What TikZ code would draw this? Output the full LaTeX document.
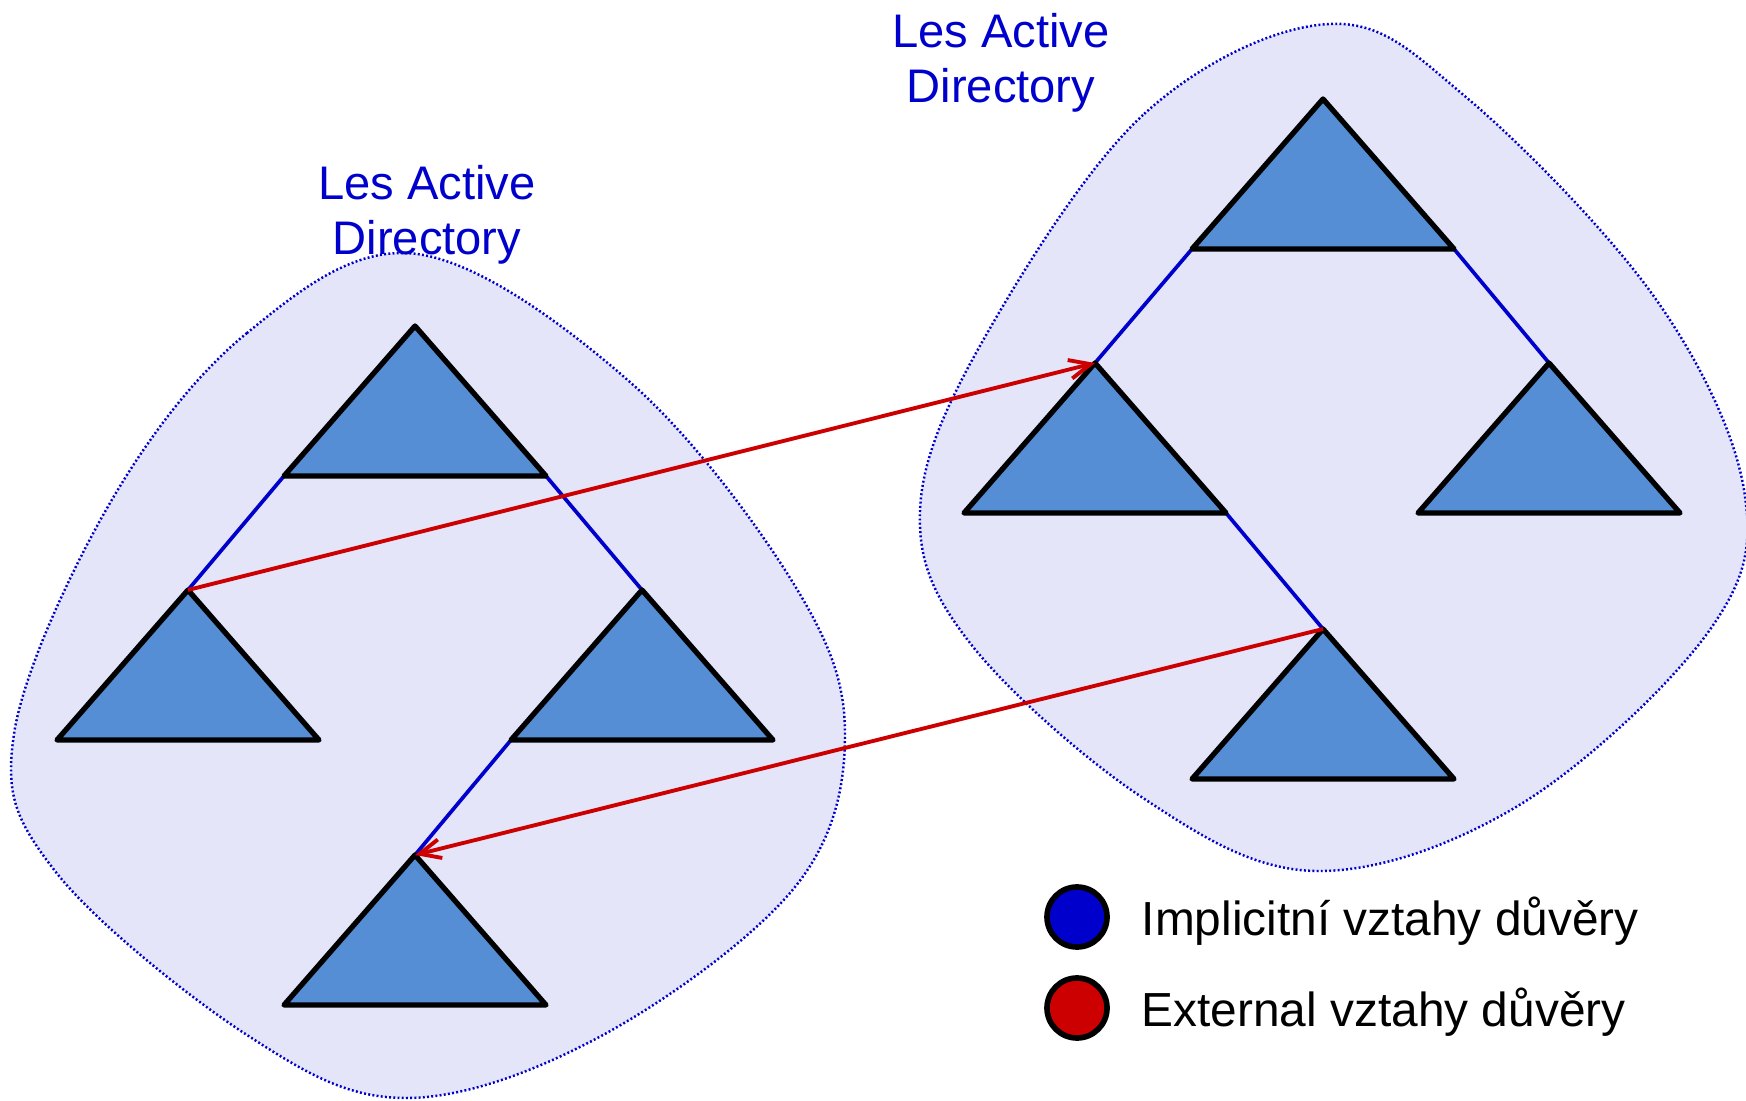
\documentclass[tikz,border=0pt]{standalone}
\usepackage{fontspec}
\setmainfont{Liberation Sans}
\usetikzlibrary{arrows.meta}
\definecolor{blobfill}{RGB}{228,229,248}
\definecolor{adblue}{RGB}{0,0,204}
\definecolor{adred}{RGB}{204,0,0}
\definecolor{trifill}{RGB}{85,142,213}
\newcommand\mytri[3]{%
  \path (#2,#3) coordinate (#1t) ++(-131,150) coordinate (#1l) ++(262,0) coordinate (#1r);
  \draw[tribox] (#1t) -- (#1l) -- (#1r) -- cycle;}
\begin{document}
\begin{tikzpicture}[x=0.01cm,y=-0.01cm,
  blob/.style={fill=blobfill,draw=adblue,line width=0.7pt,dash pattern=on 0.55pt off 0.65pt},
  tribox/.style={fill=trifill,draw=black,line width=1.5pt,line join=round},
  implicit/.style={draw=adblue,line width=1.05pt},
  external/.style={draw=adred,line width=1.1pt,-{Straight Barb[length=6pt,width=5.4pt]}},
  lbl/.style={text=adblue,align=center,anchor=north,inner sep=0pt,font=\fontsize{13.4pt}{15.65pt}\selectfont},
  legtext/.style={anchor=base west,inner sep=0pt,font=\fontsize{13.6pt}{15.65pt}\selectfont},
  legdot/.style={circle,draw=black,line width=1.6pt,minimum size=0.6cm,inner sep=0pt}]
\useasboundingbox (0,0) rectangle (1746,1101);
% blobs
\draw[blob] plot[smooth cycle,tension=0.6] coordinates {
  (417,254) (247,333) (110,503) (14,734) (55,871) (247,1035) (406,1098)
  (603,1035) (795,887) (845,734) (795,586) (631,383)};
\draw[blob] plot[smooth cycle,tension=0.6] coordinates {
  (1329,24) (1143,115) (981,344) (920,511) (970,643) (1143,798) (1316,871)
  (1521,804) (1709,631) (1744,490) (1655,298) (1467,98)};
% labels
\node[lbl] (labL) at (427,165) {Les Active\\Directory};
\node[lbl] (labR) at (1001,13) {Les Active\\Directory};
% triangle coordinates
\path (415,326) coordinate (T1t) ++(-131,150) coordinate (T1l) ++(262,0) coordinate (T1r);
\path (188,590) coordinate (T2t);
\path (642,590) coordinate (T3t) ++(-131,150) coordinate (T3l);
\path (415,855) coordinate (T4t);
\path (1323,99) coordinate (R1t) ++(-131,150) coordinate (R1l) ++(262,0) coordinate (R1r);
\path (1095,363) coordinate (R2t) ++(131,150) coordinate (R2r);
\path (1549,363) coordinate (R3t);
\path (1323,629) coordinate (R4t);
% implicit trusts
\draw[implicit] (T1l) -- (T2t);
\draw[implicit] (T1r) -- (T3t);
\draw[implicit] (T3l) -- (T4t);
\draw[implicit] (R1l) -- (R2t);
\draw[implicit] (R1r) -- (R3t);
\draw[implicit] (R2r) -- (R4t);
% triangles
\mytri{T1}{415}{326}
\mytri{T2}{188}{590}
\mytri{T3}{642}{590}
\mytri{T4}{415}{855}
\mytri{R1}{1323}{99}
\mytri{R2}{1095}{363}
\mytri{R3}{1549}{363}
\mytri{R4}{1323}{629}
% external trusts
\draw[external] (T2t) -- (R2t);
\draw[external] (R4t) -- (T4t);
% legend
\node[legdot,fill=adblue] (dotB) at (1077,917) {};
\node[legdot,fill=adred] (dotR) at (1077,1008) {};
\node[legtext] (txtB) at (1141,935) {Implicitní vztahy důvěry};
\node[legtext] (txtR) at (1141,1026) {External vztahy důvěry};
\end{tikzpicture}
\end{document}
